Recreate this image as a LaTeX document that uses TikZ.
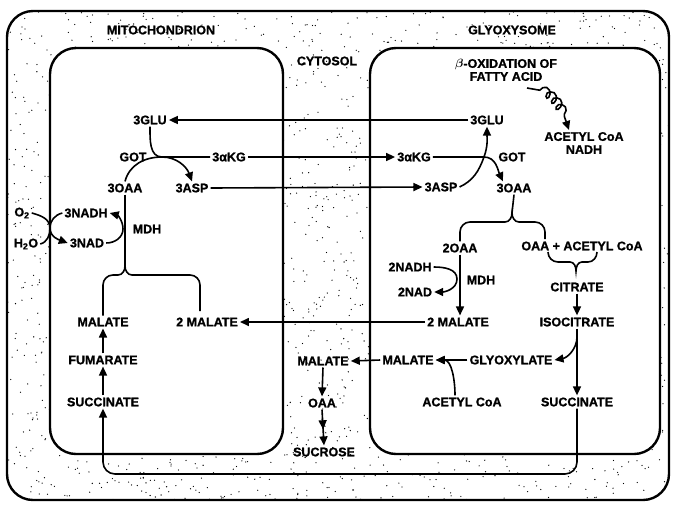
\documentclass[tikz,border=0pt]{standalone}
\usepackage{amsmath}
\usepackage{fontspec}
\setmainfont{Liberation Sans}[BoldFeatures={FakeBold=1.2}]
\usepackage{tikz}
\usetikzlibrary{decorations.markings}
\usetikzlibrary{decorations.pathmorphing}
\usetikzlibrary{arrows.meta}

\begin{document}
\begin{tikzpicture}[x=1pt,y=-1pt]
	\tikzset{middlearrow/.style={decoration={markings,mark= at position 0.55 with {\arrow{#1}} ,},postaction={decorate}}};
	\tikzset{metab/.style={font=\bfseries\fontsize{12.5}{15}\selectfont,inner sep=2pt}};
	\tikzset{conn/.style={line width=1.6pt,-{Triangle[length=9pt,width=8pt]}}};
	\tikzset{bond/.style={line width=1.6pt}};
	\tikzset{membrane/.style={line width=2.4pt,rounded corners=26pt}};
	\useasboundingbox (0,0) rectangle (674,504);
	\begin{scope}
		\clip[rounded corners=26pt] (7,11) rectangle (669,500);
		\pgfmathsetseed{42}
		\foreach \i in {1,...,2400} {\fill ({rnd*664+6},{rnd*492+10}) circle (0.65pt);}
	\end{scope}
	\draw[membrane] (7,11) rectangle (669,500);
	\filldraw[membrane,fill=white] (50,48) rectangle (283,454);
	\filldraw[membrane,fill=white] (370,48) rectangle (660,454);

	\node[metab] (mito) at (161,30) {MITOCHONDRION};
	\node[metab] (glyxlabel) at (512,30) {GLYOXYSOME};
	\node[metab] (cyto) at (327,61) {CYTOSOL};
	\node[metab,align=center] (betaox) at (506,70) {$\boldsymbol{\beta}$-OXIDATION OF\\[-2pt]FATTY ACID};
	\node[metab,align=center] (acoa1) at (584,143) {ACETYL CoA\\[-2pt]NADH};

	\node[metab] (glul) at (150,120) {3GLU};
	\node[metab] (glur) at (487,120) {3GLU};
	\node[metab] (got1) at (133,157) {GOT};
	\node[metab] (akgl) at (229,157) {3αKG};
	\node[metab] (akgr) at (414,157) {3αKG};
	\node[metab] (got2) at (512,157) {GOT};
	\node[metab] (oaal) at (125,188) {3OAA};
	\node[metab] (aspl) at (192,188) {3ASP};
	\node[metab] (aspr) at (441,187) {3ASP};
	\node[metab] (oaar) at (514,188) {3OAA};

	\node[metab] (o2) at (22,213) {O\textsubscript{2}};
	\node[metab] (h2o) at (26,244) {H\textsubscript{2}O};
	\node[metab] (nadh3) at (86,213) {3NADH};
	\node[metab] (nad3) at (87,243) {3NAD};
	\node[metab] (mdh1) at (147,229) {MDH};

	\node[metab] (oaa2) at (460,248) {2OAA};
	\node[metab] (oaaac) at (582,246) {OAA + ACETYL CoA};
	\node[metab] (nadh2) at (410,267) {2NADH};
	\node[metab] (nad2) at (415,292) {2NAD};
	\node[metab] (mdh2) at (481,280) {MDH};
	\node[metab] (cit) at (577,287) {CITRATE};

	\node[metab] (mall) at (103,322) {MALATE};
	\node[metab] (mal2l) at (207,322) {2 MALATE};
	\node[metab] (mal2r) at (458,322) {2 MALATE};
	\node[metab] (isocit) at (577,322) {ISOCITRATE};
	\node[metab] (fum) at (103,360) {FUMARATE};
	\node[metab] (malc) at (323,361) {MALATE};
	\node[metab] (malr) at (408,360) {MALATE};
	\node[metab] (glyox) at (511,360) {GLYOXYLATE};
	\node[metab] (sucl) at (103,402) {SUCCINATE};
	\node[metab] (oaac) at (322,403) {OAA};
	\node[metab] (acoa2) at (462,402) {ACETYL CoA};
	\node[metab] (sucr) at (577,402) {SUCCINATE};
	\node[metab] (sucrose) at (324,452) {SUCROSE};

	\coordinate (gotl) at (162,157);
	\coordinate (gotr) at (484,157);
	\coordinate (memb) at (50,228);
	\coordinate (mdhl) at (123,229);
	\coordinate (mdhr) at (457,279);
	\coordinate (tipl) at (125,266);
	\coordinate (armr) at (200,311);
	\coordinate (tipr) at (512,213);
	\coordinate (coilstart) at (527,88);
	\coordinate (loopb) at (0,474);

	\draw[conn] (glur.west) -- (glul.east);
	\draw[bond] (glul.south) to[out=-90,in=180] (gotl) -- (akgl.west);
	\draw[conn] (oaal.north) to[out=75,in=180] (gotl) to[out=0,in=110] (aspl.north);
	\draw[conn] (akgl.east) -- (akgr.west);
	\draw[conn] (aspl.east) -- (aspr.west);
	\draw[conn] (aspr.east) to[out=25,in=-110] (gotr) to[out=70,in=-90] (glur.south);
	\draw[conn] (akgr.east) -- (gotr) to[out=0,in=115] ([xshift=-11pt]oaar.north);

	\draw[bond] (o2.east) to[out=-15,in=90] (memb) to[out=-90,in=15] (h2o.east);
	\draw[conn] (nadh3.west) to[out=195,in=90] (memb) to[out=-90,in=160] (nad3.west);
	\draw[conn] (nad3.east) to[out=0,in=-90] (mdhl) to[out=90,in=-15] (nadh3.east);
	\draw[bond] (oaal.south) -- (tipl);
	\draw[bond] (mall.north) -- (103,285) to[out=90,in=180] (113,275) -- (118,275) to[out=0,in=-90] (tipl)
		to[out=-90,in=180] (132,275) -- (190,275) to[out=0,in=90] (armr |- 0,285) -- (armr);

	\draw[bond] (oaar.south) -- (tipr);
	\draw[bond] (oaa2.north) -- (460,232) to[out=90,in=180] (470,222) -- (505,222) to[out=0,in=-90] (tipr)
		to[out=-90,in=180] (519,222) -- (535,222) to[out=0,in=90] (545,232) -- (545,239);
	\draw[bond] (548,252) to[out=-90,in=180] (558,262) -- (570,262) to[out=0,in=90] (576,271)
		to[out=90,in=180] (582,262) -- (588,262) to[out=0,in=-90] (597,252);
	\draw[conn] (oaa2.south) -- (oaa2.south |- mal2r.north);
	\draw[conn] (nadh2.east) to[out=0,in=90] (mdhr) to[out=-90,in=0] (nad2.east);
	\draw[conn] (cit.south) -- (isocit.north);
	\draw[conn] (isocit.south) -- (sucr.north);
	\draw[conn] ([yshift=-8pt]isocit.south) to[out=-90,in=10] (glyox.east);
	\draw[conn] (glyox.west) -- (malr.east);
	\draw[conn] ([xshift=-7pt]acoa2.north) to[out=90,in=0] (malr.east);
	\draw[conn] (malr.west) -- (malc.east);
	\draw[conn] (malc.south) -- (oaac.north);
	\draw[conn,middlearrow={Triangle[length=9pt,width=8pt]}] (oaac.south) -- (sucrose.north);
	\draw[conn] (mal2r.west) -- (mal2l.east);
	\draw[conn] (sucl.north) -- (fum.south);
	\draw[conn] (fum.north) -- (mall.south);
	\draw[conn,rounded corners=12pt] (sucr.south) -- (sucr.south |- loopb) -- (sucl.south |- loopb) -- (sucl.south);

	\draw[conn,decorate,decoration={coil,aspect=0.7,amplitude=5pt,segment length=8pt,pre length=13pt,post length=14pt}]
		(coilstart) to[out=0,in=105] ([xshift=-15pt]acoa1.north);
\end{tikzpicture}
\end{document}
